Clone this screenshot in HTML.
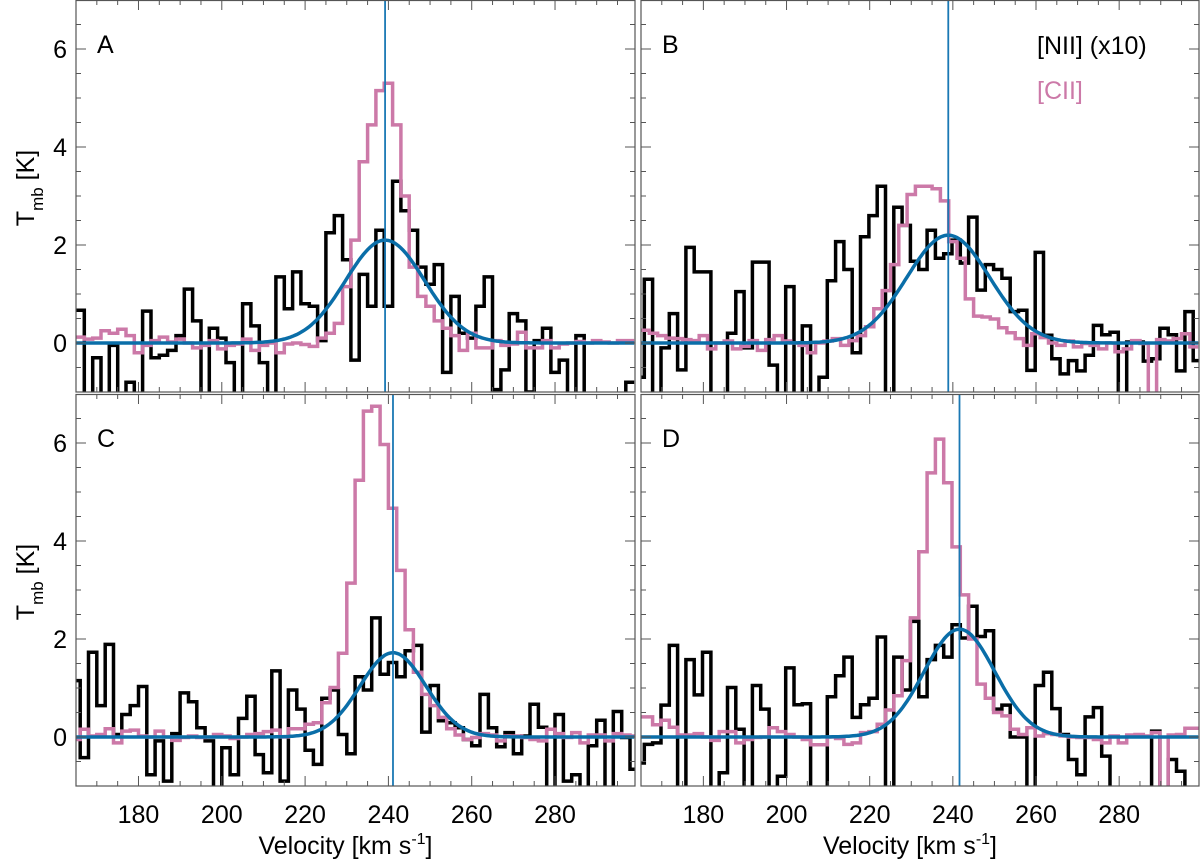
<!DOCTYPE html>
<html><head><meta charset="utf-8"><title>[NII] and [CII] spectra</title>
<style>
html,body{margin:0;padding:0;background:#fff;}
svg{display:block;font-family:"Liberation Sans",Arial,sans-serif;}
</style></head>
<body>
<svg id="chart" width="1200" height="864" viewBox="0 0 1200 864" xmlns="http://www.w3.org/2000/svg"></svg>
<script>
// ---- data ----
const panelLabels = ["A","B","C","D"];
const xTicks = [180,200,220,240,260,280];
const yTicks = [0,2,4,6];
const binWidth = 2;
const niiStart = [165, 163.8, 164, 163.8];
const ciiStart = [165, 165, 164, 163.8];
const niiA = [0.67,-1.5,-0.3,-1.5,-0.05,-1.5,-0.8,-1.5,0.65,-0.3,-0.25,-0.15,0.15,1.1,0.45,-1.5,0.3,0.1,-0.4,-1.5,0.8,0.35,-0.4,-1.5,1.35,0.7,1.45,0.8,0.75,0.05,2.25,2.6,1.7,-0.35,1.4,0.75,2.3,0.75,3.3,2.7,2.3,1.55,1.2,1.6,-0.6,0.95,0.2,0.1,0.75,1.35,-0.95,-0.55,0.6,0.45,-1.0,0.05,0.3,-0.6,-0.35,-1.5,0.15,-1.5,-1.5,-1.5,-1.5,-1.5,-0.8];
const ciiA = [0.12,0.08,0.1,0.25,0.2,0.28,0.15,-0.2,-0.05,0.05,0.12,0.02,0.08,0,-0.1,-0.05,0.05,-0.12,-0.05,-0.02,0.08,-0.15,-0.05,0,-0.2,-0.02,0,-0.03,-0.07,0.1,0.2,0.4,1.15,2.1,3.7,4.45,5.15,5.3,4.45,3.0,1.55,0.95,0.75,0.45,0.3,0.15,-0.15,0.2,-0.1,-0.1,0.05,-0.05,-0.02,0.22,-0.1,-0.1,0.05,-0.1,-0.02,0,0.03,0,0.05,0.02,0,0.05,0.05];
const niiB = [-0.7,1.3,-1.5,-0.1,0.6,-0.55,1.95,1.45,1.45,-1.5,-1.5,0.2,1.05,-0.1,1.65,1.65,-0.45,-1.5,1.15,-1.5,0.35,-1.5,-0.7,1.27,2.07,1.5,-0.2,2.17,2.6,3.2,-1.5,2.77,2.4,1.67,1.5,2.3,1.73,1.82,2.1,1.63,2.57,1.08,1.6,1.5,1.32,0.64,0.67,-0.56,1.85,0.16,-0.32,-0.63,-0.36,-0.57,-0.25,0.36,0.17,0.22,-1.5,0.02,0.02,-0.37,-0.32,0.3,0.17,-0.57,0.64,-0.36];
const ciiB = [0.26,0.2,0.15,0.1,0.09,0.07,0.05,0.15,-0.12,0,0.04,-0.12,-0.07,0.05,-0.15,0.07,0.15,0.04,0,-0.05,-0.2,0,0.04,0.09,-0.05,0.05,0.15,0.33,0.7,1.07,1.6,2.4,3.03,3.2,3.2,3.15,2.9,2.07,1.73,0.9,0.55,0.53,0.49,0.31,0.21,0.09,-0.05,0.19,0.11,0,-0.05,0.04,-0.08,-0.01,-0.05,-0.12,0,-0.18,-0.12,0.05,-0.01,-1.5,0.07,0.04,0.09,0.19,-0.08];
const niiC = [1.15,-0.42,1.73,0.64,1.89,0.05,0.46,0.64,1.03,-0.77,-0.08,-0.9,0.07,0.9,0.72,0.19,-0.08,-1.5,-0.22,-0.77,0.38,0.83,-0.36,-0.73,1.35,-0.9,0.96,0.57,-0.27,-0.56,0.79,0.96,0.05,-0.34,1.23,0.96,2.43,1.28,1.52,1.23,1.76,1.87,0.1,1.05,0.33,0.29,0.19,-0.05,-0.18,0.87,0.19,-0.2,0.09,-0.34,0.02,0.67,0.2,-1.5,0.46,-0.9,-0.77,-1.5,-0.18,0.34,-1.5,0.52,-0.01,-0.66];
const ciiC = [-0.05,0.16,0.02,0.05,0.17,-0.12,0.12,0.14,0.02,0,0.12,0,-0.07,-0.01,0.02,-0.01,0,0.05,0.02,-0.03,0,0.05,0.07,0.11,0.14,0,0.17,0.17,0.26,0.29,0.7,1.01,1.71,3.14,5.24,6.65,6.75,5.97,4.67,3.4,2.19,1.32,0.87,0.64,0.4,0.17,0.04,-0.05,-0.01,0.07,0.04,-0.08,0.02,0.02,-0.01,-0.05,-0.08,0.16,0.07,-0.01,0.09,-0.12,0.04,0.04,-0.08,0.07,0.04,0.02];
const niiD = [-0.53,-0.15,-0.12,0.65,1.87,-1.5,1.58,0.86,1.73,-1.5,-0.73,1.01,0.16,-1.5,1.05,0.57,-1.5,-0.8,1.41,0.66,0.68,-1.5,-1.5,0.82,1.25,1.63,0.4,0.66,0.79,2.04,-1.5,1.63,0.96,2.36,0.82,1.58,1.87,1.63,2.29,2.02,2.67,2.05,2.17,0.57,0.65,0,0,-1.5,1.05,1.32,0.58,0.05,-0.46,-0.77,0.41,0.6,-0.39,-1.5,-1.5,-1.5,-1.5,-1.5,0.12,-1.5,-0.46,-0.7,-1.5,-1.5];
const ciiD = [0.41,0.41,0.25,0.34,0.2,0.04,0.04,0.07,0,-0.07,0.11,0.11,-0.12,-0.05,-0.01,0,0.19,0.11,0.05,0,-0.05,-0.16,-0.16,0,-0.03,-0.15,-0.12,0.09,0.11,0.26,0.55,0.84,1.56,2.43,3.78,5.39,6.08,5.19,3.88,2.9,2.0,1.08,0.79,0.5,0.43,0.16,0.05,0.19,0.02,0.07,0.05,0.02,0,-0.01,-0.01,-0.05,-0.12,0.02,-0.12,0.04,0.05,0.02,0.09,-1.5,0.04,0.05,0.18,0.18];
const fitPeak = [2.1, 2.2, 1.72, 2.2];
const fitCenter = [239.2, 238.9, 241.1, 241.6];
const fitSigma = [9.5, 10.0, 7.9, 8.5];

const niiSeries = [niiA, niiB, niiC, niiD];
const ciiSeries = [ciiA, ciiB, ciiC, ciiD];

// ---- layout ----
const panels = [
  {x0:76, x1:635, y0:0, y1:392},
  {x0:641, x1:1199, y0:0, y1:392},
  {x0:76, x1:635, y0:394, y1:786},
  {x0:641, x1:1199, y0:394, y1:786}
];
const vMin = 165, vMax = 299.2, tMin = -1, tMax = 7;
const NS = "http://www.w3.org/2000/svg";
const svg = document.getElementById("chart");
const BLACK = "#000", PINK = "#cc79a8", BLUE = "#0a6ea8", FRAME = "#555";

function mk(tag, attrs, parent){
  const e = document.createElementNS(NS, tag);
  for (const k in attrs) e.setAttribute(k, attrs[k]);
  (parent||svg).appendChild(e);
  return e;
}
function xs(p, v){ return p.x0 + (v - vMin) * (p.x1 - p.x0) / (vMax - vMin); }
function ys(p, t){ return p.y0 + (tMax - t) * (p.y1 - p.y0) / (tMax - tMin); }

const defs = mk("defs", {});
panels.forEach((p, i) => {
  const cp = mk("clipPath", {id:"clip"+i}, defs);
  mk("rect", {x:p.x0, y:p.y0, width:p.x1-p.x0, height:p.y1-p.y0}, cp);
});

function histPath(p, start, vals){
  let d = "";
  vals.forEach((v, k) => {
    const xa = xs(p, start + k*binWidth), xb = xs(p, start + (k+1)*binWidth), y = ys(p, v);
    d += (k === 0 ? "M" : "L") + xa.toFixed(1) + "," + y.toFixed(1) + "L" + xb.toFixed(1) + "," + y.toFixed(1);
  });
  return d;
}

panels.forEach((p, i) => {
  const g = mk("g", {});
  
  
  const clipG = mk("g", {"clip-path":"url(#clip"+i+")"}, g);

  let d = "";
  for (let v = vMin; v <= vMax + 0.01; v += 0.5) {
    const t = fitPeak[i] * Math.exp(-0.5 * Math.pow((v - fitCenter[i]) / fitSigma[i], 2));
    d += (v === vMin ? "M" : "L") + xs(p, v).toFixed(1) + "," + ys(p, t).toFixed(1);
  }
  const nii = mk("path", {d:histPath(p, niiStart[i], niiSeries[i]), fill:"none", stroke:BLACK, "stroke-width":3.5}, clipG);
  
  
  const cii = mk("path", {d:histPath(p, ciiStart[i], ciiSeries[i]), fill:"none", stroke:PINK, "stroke-width":3.5}, clipG);
  
  
  const fit = mk("path", {d:d, fill:"none", stroke:BLUE, "stroke-width":3.5}, clipG);
  
  
  const cx = xs(p, fitCenter[i]);
  const vl = mk("line", {x1:cx, x2:cx, y1:p.y0, y2:p.y1, stroke:"#1a78b4", "stroke-width":1.8}, g);
  
  

  const fr = mk("rect", {x:p.x0, y:p.y0+0.5, width:p.x1-p.x0, height:p.y1-p.y0-0.5, fill:"none", stroke:FRAME, "stroke-width":1.2}, g);
  
  

  for (let v = 170; v <= vMax; v += 5) {
    const x = xs(p, v), len = (v % 20 === 0) ? 10 : 5;
    mk("line", {x1:x, x2:x, y1:p.y1, y2:p.y1-len, stroke:FRAME, "stroke-width":1}, g);
    mk("line", {x1:x, x2:x, y1:p.y0, y2:p.y0+len, stroke:FRAME, "stroke-width":1}, g);
  }
  for (let t = -0.5; t < tMax; t += 0.5) {
    const y = ys(p, t), len = (t % 2 === 0) ? 10 : 5;
    mk("line", {x1:p.x0, x2:p.x0+len, y1:y, y2:y, stroke:FRAME, "stroke-width":1}, g);
    mk("line", {x1:p.x1, x2:p.x1-len, y1:y, y2:y, stroke:FRAME, "stroke-width":1}, g);
  }
  const lt = mk("text", {x:p.x0+21, y:p.y0+53, "font-size":25, fill:"#000"}, g);
  lt.textContent = panelLabels[i];
  
  

  if (i === 0 || i === 2) {
    yTicks.forEach(t => {
      const tl = mk("text", {x:p.x0-9, y:ys(p, t)+9, "font-size":25, "text-anchor":"end", fill:"#000"}, g);
      tl.textContent = t;
      
      
    });
    const cyT = (p.y0 + p.y1) / 2 - 8;
    const yt = mk("text", {transform:"translate(34," + cyT + ") rotate(-90)", "font-size":25, "text-anchor":"middle", fill:"#000"}, g);
    yt.innerHTML = 'T<tspan font-size="17" dy="9">mb</tspan><tspan dy="-9"> [K]</tspan>';
    
    
  }
  if (i >= 2) {
    xTicks.forEach(v => {
      const tl = mk("text", {x:xs(p, v), y:p.y1+37, "font-size":25, "text-anchor":"middle", fill:"#000"}, g);
      tl.textContent = v;
      
      
    });
    const xt = mk("text", {x:(p.x0+p.x1)/2 - 10, y:p.y1+68, "font-size":25, "text-anchor":"middle", fill:"#000"}, g);
    xt.innerHTML = 'Velocity [km s<tspan font-size="16" dy="-10">-1</tspan><tspan dy="10">]</tspan>';
    
    
  }
});

const lg = mk("g", {});


const l1 = mk("text", {x:1037, y:54, "font-size":25, fill:"#000"}, lg);
l1.textContent = "[NII] (x10)";


const l2 = mk("text", {x:1037, y:99, "font-size":25, fill:PINK}, lg);
l2.textContent = "[CII]";


</script>
</body></html>
